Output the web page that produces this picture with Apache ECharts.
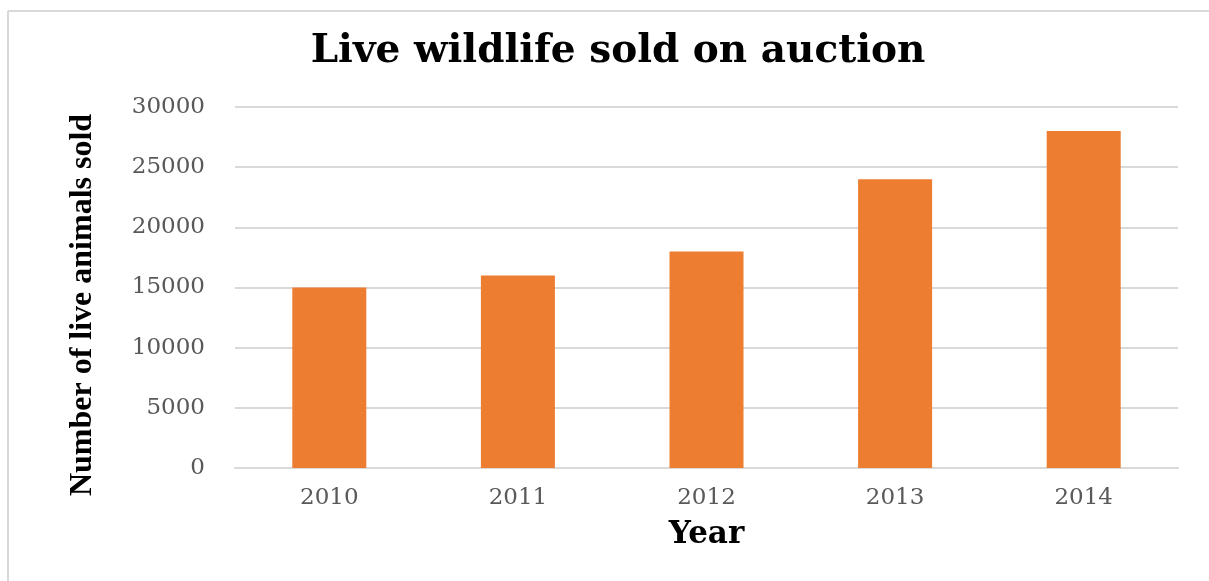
<!DOCTYPE html>
<html>
<head>
<meta charset="utf-8">
<title>Live wildlife sold on auction</title>
<script src="https://cdn.jsdelivr.net/npm/echarts@6/dist/echarts.min.js"></script>
<style>
  html, body { margin: 0; padding: 0; background: #ffffff; overflow: hidden; }
  #chart { width: 1209px; height: 581px; }
</style>
</head>
<body>
<div id="chart"></div>
<script>
// Auction sales of live wildlife, per year
const years = ['2010', '2011', '2012', '2013', '2014'];
const animalsSold = [15000, 16000, 18000, 24000, 28000];
const yTicks = { min: 0, max: 30000, step: 5000 };

const chartTitle = 'Live wildlife sold on auction';
const xName = 'Year';
const yName = 'Number of live animals sold';

const chart = echarts.init(document.getElementById('chart'));

const frameStyle = { stroke: '#d9d9d9', lineWidth: 2 };

chart.setOption({
  backgroundColor: '#ffffff',
  animation: false,
  title: {
    text: chartTitle,
    left: 613,
    top: 27,
    textAlign: 'center',
    textStyle: {
      fontFamily: 'DejaVu Serif',
      fontWeight: 'bold',
      fontSize: 39,
      color: '#000000'
    }
  },
  grid: { left: 235, right: 31, top: 107, bottom: 113, containLabel: false },
  xAxis: {
    type: 'category',
    data: years,
    name: xName,
    nameLocation: 'middle',
    nameGap: 51,
    nameTextStyle: {
      fontFamily: 'DejaVu Serif',
      fontWeight: 'bold',
      fontSize: 31,
      color: '#000000'
    },
    axisLine: { show: true, lineStyle: { color: '#d9d9d9', width: 2 } },
    axisTick: { show: false },
    axisLabel: {
      margin: 19,
      fontFamily: 'DejaVu Serif',
      fontSize: 23,
      color: '#595959'
    }
  },
  yAxis: {
    type: 'value',
    min: yTicks.min,
    max: yTicks.max,
    interval: yTicks.step,
    axisLine: { show: false },
    axisTick: { show: false },
    splitLine: { lineStyle: { color: '#d9d9d9', width: 2 } },
    axisLabel: {
      margin: 30,
      fontFamily: 'DejaVu Serif',
      fontSize: 23,
      color: '#595959',
      formatter: (v) => String(v)
    }
  },
  graphic: [
    // chart frame: top and left edges
    {
      type: 'line',
      silent: true,
      shape: { x1: 8, y1: 11, x2: 1209, y2: 11 },
      style: frameStyle
    },
    {
      type: 'line',
      silent: true,
      shape: { x1: 8, y1: 11, x2: 8, y2: 581 },
      style: frameStyle
    },
    {
      type: 'text',
      silent: true,
      x: 83,
      y: 305,
      rotation: Math.PI / 2,
      style: {
        text: yName,
        fontFamily: 'Liberation Serif',
        fontWeight: 'bold',
        fontSize: 32,
        fill: '#000000',
        align: 'center',
        verticalAlign: 'middle'
      }
    }
  ],
  series: [
    {
      type: 'bar',
      data: animalsSold,
      barWidth: 74,
      itemStyle: { color: '#ED7D31' }
    }
  ]
});
</script>
</body>
</html>
